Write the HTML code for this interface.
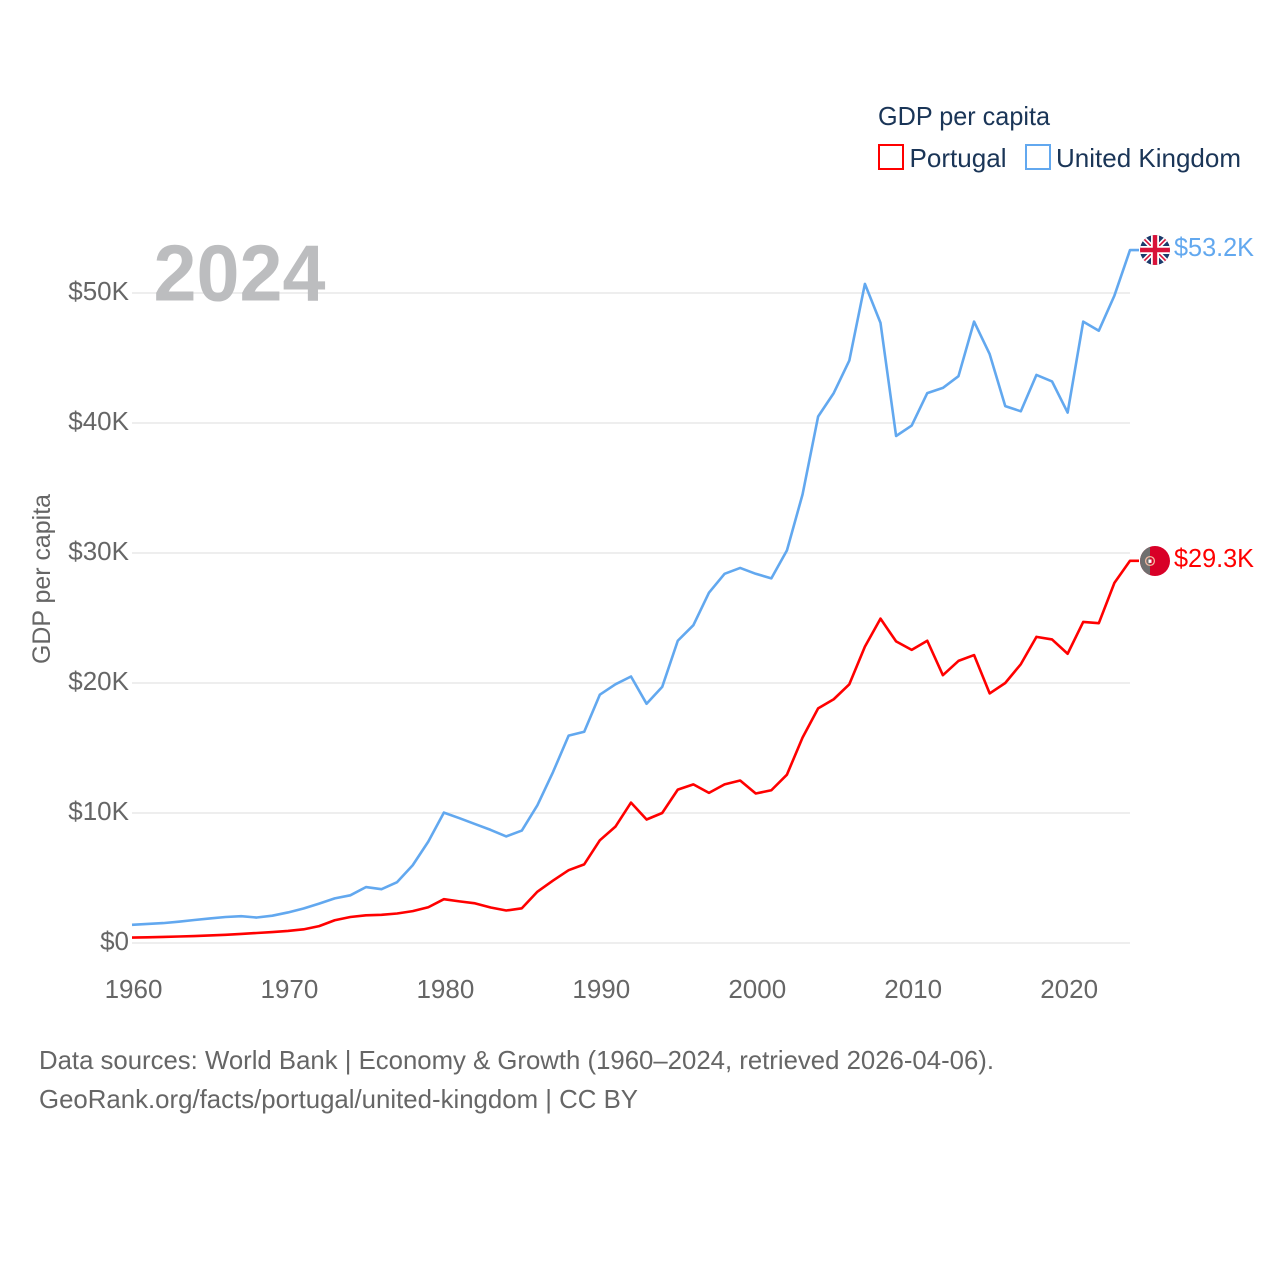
<!DOCTYPE html>
<html lang="en">
<head>
<meta charset="utf-8">
<title>GDP per capita: Portugal and United Kingdom</title>
<style>
html,body{margin:0;padding:0;background:#fff;}
svg{display:block;font-family:"Liberation Sans",sans-serif;}
</style>
</head>
<body>
<svg id="chart" xmlns="http://www.w3.org/2000/svg" width="1280" height="1280" viewBox="0 0 1280 1280">
  <defs>
    <clipPath id="flag-clip-uk"><circle cx="1155" cy="250" r="15"/></clipPath>
    <clipPath id="flag-clip-pt"><circle cx="1155" cy="561" r="15"/></clipPath>
  </defs>
  <rect width="1280" height="1280" fill="#fff"/>
  <g id="grid"></g>
  <text x="153.500" y="300.500" font-size="80" font-weight="700" fill="#bcbdbf" textLength="172" lengthAdjust="spacingAndGlyphs">2024</text>
  <g id="y-ticks"></g>
  <g id="x-ticks"></g>
  <text transform="translate(50,579) rotate(-90)" text-anchor="middle" font-size="25" fill="#666" textLength="170" lengthAdjust="spacingAndGlyphs">GDP per capita</text>
  <g id="series"></g>

  <g clip-path="url(#flag-clip-uk)">
    <rect x="1140" y="235" width="30" height="30" fill="#1b3a6b"/>
    <path d="M1140 235L1170 265M1170 235L1140 265" stroke="#fff" stroke-width="5"/>
    <path d="M1140 235L1170 265M1170 235L1140 265" stroke="#d8133a" stroke-width="1.6"/>
    <path d="M1155 235V265M1140 250H1170" stroke="#fff" stroke-width="8"/>
    <path d="M1155 235V265M1140 250H1170" stroke="#d8133a" stroke-width="4.4"/>
  </g>
  <g clip-path="url(#flag-clip-pt)">
    <rect x="1140" y="546" width="30" height="30" fill="#d80027"/>
    <rect x="1140" y="546" width="10" height="30" fill="#6f6f6f"/>
    <circle cx="1150" cy="561" r="4.4" fill="none" stroke="#f2b8a0" stroke-width="1.3"/>
    <rect x="1148.5" y="559.5" width="3" height="3.4" fill="#fff"/>
  </g>
  <g id="end-labels"></g>

  <g>
    <text x="878" y="125" font-size="26" fill="#1a3557" textLength="172" lengthAdjust="spacingAndGlyphs">GDP per capita</text>
    <g>
      <rect x="879" y="145" width="24" height="24" fill="#fff" stroke="#ff0000" stroke-width="2"/>
      <text x="909.500" y="167" font-size="26" fill="#1a3557" textLength="97" lengthAdjust="spacingAndGlyphs">Portugal</text>
    </g>
    <g>
      <rect x="1026" y="145" width="24" height="24" fill="#fff" stroke="#62a8ef" stroke-width="2"/>
      <text x="1056" y="167" font-size="26" fill="#1a3557" textLength="185" lengthAdjust="spacingAndGlyphs">United Kingdom</text>
    </g>
  </g>

  <g>
    <text x="39" y="1069" font-size="26" fill="#666" textLength="955" lengthAdjust="spacingAndGlyphs">Data sources: World Bank | Economy &amp; Growth (1960–2024, retrieved 2026-04-06).</text>
    <text x="39" y="1108" font-size="26" fill="#666" textLength="599" lengthAdjust="spacingAndGlyphs">GeoRank.org/facts/portugal/united-kingdom | CC BY</text>
  </g>
</svg>
<script>
var years = [1960,1961,1962,1963,1964,1965,1966,1967,1968,1969,1970,1971,1972,1973,1974,1975,1976,1977,1978,1979,1980,1981,1982,1983,1984,1985,1986,1987,1988,1989,1990,1991,1992,1993,1994,1995,1996,1997,1998,1999,2000,2001,2002,2003,2004,2005,2006,2007,2008,2009,2010,2011,2012,2013,2014,2015,2016,2017,2018,2019,2020,2021,2022,2023,2024];
var ukValues = [1.40,1.47,1.53,1.64,1.77,1.89,2.00,2.06,1.96,2.10,2.35,2.65,3.03,3.43,3.67,4.30,4.14,4.68,5.98,7.80,10.03,9.60,9.15,8.70,8.20,8.65,10.60,13.15,15.95,16.25,19.10,19.90,20.50,18.40,19.70,23.25,24.45,26.95,28.40,28.85,28.40,28.05,30.20,34.50,40.50,42.30,44.80,50.70,47.70,39.00,39.80,42.30,42.70,43.60,47.80,45.30,41.30,40.90,43.70,43.20,40.80,47.80,47.10,49.80,53.30];
var portugalValues = [0.42,0.44,0.47,0.50,0.53,0.58,0.63,0.70,0.77,0.84,0.93,1.05,1.30,1.75,2.00,2.13,2.17,2.27,2.45,2.75,3.37,3.20,3.05,2.73,2.50,2.67,3.95,4.80,5.60,6.05,7.90,8.95,10.80,9.50,10.00,11.80,12.20,11.55,12.20,12.50,11.50,11.75,12.95,15.80,18.05,18.75,19.90,22.80,24.95,23.20,22.55,23.25,20.60,21.70,22.15,19.20,20.00,21.45,23.55,23.35,22.25,24.70,24.60,27.70,29.40];
var yTickValues = [0,10,20,30,40,50];
var yTickLabels = ["$0","$10K","$20K","$30K","$40K","$50K"];
var xTickValues = [1960,1970,1980,1990,2000,2010,2020];
var endLabelTexts = ["$53.2K","$29.3K"];

var NS = "http://www.w3.org/2000/svg";
function xScale(year){ return 132 + (year - 1960) * (1130 - 132) / 64; }
function yScale(value){ return 943 - value * 13; }
function make(tag, parent, attrs){
  var el = document.createElementNS(NS, tag);
  for (var k in attrs) el.setAttribute(k, attrs[k]);
  parent.appendChild(el);
  return el;
}
var gridGroup = document.getElementById("grid");
var yGroup = document.getElementById("y-ticks");
var xGroup = document.getElementById("x-ticks");
var seriesGroup = document.getElementById("series");
var labelGroup = document.getElementById("end-labels");

yTickValues.forEach(function(v, i){
  var line = make("line", gridGroup, {x1:132, x2:1130, y1:yScale(v), y2:yScale(v), stroke:"#eeeeee", "stroke-width":2});
  
  
  var label = make("text", yGroup, {x:129, y:yScale(v) + 7, "text-anchor":"end", "font-size":26, fill:"#666"});
  
  
  label.textContent = yTickLabels[i];
});
xTickValues.forEach(function(v){
  var label = make("text", xGroup, {x:xScale(v) + 1.5, y:998, "text-anchor":"middle", "font-size":26, fill:"#666"});
  
  
  label.textContent = String(v);
});

function linePoints(values){
  return values.map(function(v, i){ return xScale(years[i]).toFixed(2) + "," + yScale(v).toFixed(2); }).join(" ");
}
function drawSeries(values, color){
  var n = values.length - 1;
  var pts = linePoints(values) + " " + (xScale(years[n]) + 9) + "," + yScale(values[n]).toFixed(2);
  return make("polyline", seriesGroup, {points:pts, fill:"none", stroke:color, "stroke-width":2.6, "stroke-linejoin":"round"});
}
var ukLine = drawSeries(ukValues, "#62a8ef");


var ptLine = drawSeries(portugalValues, "#ff0000");



var ukLabel = make("text", labelGroup, {x:1174, y:yScale(ukValues[ukValues.length-1]) + 6, "font-size":26, fill:"#62a8ef", textLength:80, lengthAdjust:"spacingAndGlyphs"});


ukLabel.textContent = endLabelTexts[0];
var ptLabel = make("text", labelGroup, {x:1174, y:yScale(portugalValues[portugalValues.length-1]) + 6, "font-size":26, fill:"#ff0000", textLength:80, lengthAdjust:"spacingAndGlyphs"});


ptLabel.textContent = endLabelTexts[1];
</script>
</body>
</html>
